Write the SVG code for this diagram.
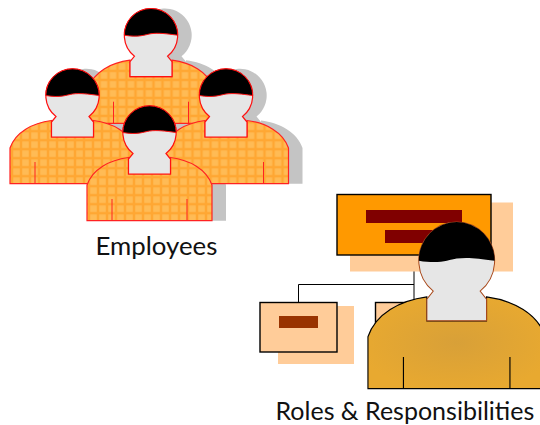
<svg xmlns="http://www.w3.org/2000/svg" width="540" height="425" viewBox="0 0 540 425">
<style>
.lbl{font-family:"Lato","Liberation Sans",sans-serif;font-size:25px;fill:#111}
.shadow{fill:#c4c4c4}
.body{fill:url(#plaid);stroke:#f22;stroke-width:1.2}
.head{fill:#e6e6e6;stroke:#f11;stroke-width:1.2}
.hair{fill:#000;stroke:#f11;stroke-width:1}
.seam{fill:none;stroke:#f22;stroke-width:1}
.conn{fill:none;stroke:#000;stroke-width:1}
.box{stroke:#000;stroke-width:1.4}
</style>
<defs>
<pattern id="plaid" width="9" height="9" patternUnits="userSpaceOnUse" x="2.500" y="8.200">
<rect width="9" height="9" fill="#ffa733"/>
<rect x="1.250" y="1.250" width="6.500" height="6.500" fill="#ffbb55"/>
</pattern>
<radialGradient id="gold" cx="0.5" cy="0.5" r="0.55">
<stop offset="0" stop-color="#d8a038"/>
<stop offset="1" stop-color="#e8a930"/>
</radialGradient>
<path id="bodyShape" d="M-62.5,87.7V52C-57,36-40,27-21,24.5V41H21V24.500C40,27 57,36 62.500,52V87.700Z"/>
<path id="headShape" d="M-16.500,20.500A26.700,26.700 0 1 1 16.500,20.500L21,26V41H-21V26Z"/>
<path id="hairShape" d="M-26.700,-0.500A26.700,26.700 0 0 1 26.700,-0.500C15,-2 8,-3 0,-2C-6,-1 -12,2 -26.700,-0.500Z"/>
<g id="silhouette"><use href="#bodyShape"/><path d="M-26.700,0A26.700,26.700 0 1 1 16.500,20.500L21,26V30H-21V26L-16.500,20.500A26.700,26.700 0 0 1 -26.700,0Z"/></g>
<g id="worker">
<use href="#bodyShape" class="body"/>
<path class="seam" d="M-37.500,66V87.700M37.500,66V87.700"/>
<use href="#headShape" class="head"/>
<use href="#hairShape" class="hair"/>
</g>
</defs>
<rect width="540" height="425" fill="#fff"/>
<g id="shadows" class="shadow">
<use href="#silhouette" x="165" y="35.700"/>
<use href="#silhouette" x="86.500" y="96"/>
<use href="#silhouette" x="240" y="96"/>
<use href="#silhouette" x="163.500" y="133"/>
</g>
<g id="employee-top"><use href="#worker" x="151" y="35.700"/></g>
<g id="employee-left"><use href="#worker" x="72.500" y="96"/></g>
<g id="employee-right"><use href="#worker" x="226" y="96"/></g>
<g id="employee-front"><use href="#worker" x="149.500" y="133"/></g>
<text id="label-employees" class="lbl" x="95.500" y="255" style="font-size:25.800px">Employees</text>
<g id="connectors" class="conn">
<path d="M414,255V302M414,284.500H298.500V302"/>
</g>
<g id="role-main">
<rect x="350" y="202.500" width="163" height="69" fill="#ffcc99"/>
<rect class="box" x="337" y="194.500" width="154" height="60.500" fill="#ff9900"/>
<rect x="366" y="210" width="96" height="13" fill="#800000"/>
<rect x="385" y="230" width="70" height="13" fill="#800000"/>
</g>
<g id="role-left">
<rect x="278" y="306" width="76" height="58" fill="#ffcc99"/>
<rect class="box" x="260" y="302.500" width="77" height="49.500" fill="#ffcc99"/>
<rect x="279" y="316" width="39" height="12" fill="#993300"/>
</g>
<g id="role-mid">
<rect class="box" x="375.500" y="302.500" width="77" height="49.500" fill="#ffcc99"/>
</g>
<g id="manager">
<g transform="translate(456.700,261.400) scale(1.42,1.45)">
<use href="#bodyShape" fill="url(#gold)" stroke="#000" stroke-width=".8"/>
<path d="M-37.500,66V87.700M37.500,66V87.700" fill="none" stroke="#000" stroke-width=".8"/>
<use href="#headShape" fill="#e6e6e6" stroke="#a8481a" stroke-width=".7"/>
<use href="#hairShape" fill="#000"/>
</g>
</g>
<text id="label-roles" class="lbl" x="275.500" y="420">Roles &amp; Responsibilities</text>
</svg>
